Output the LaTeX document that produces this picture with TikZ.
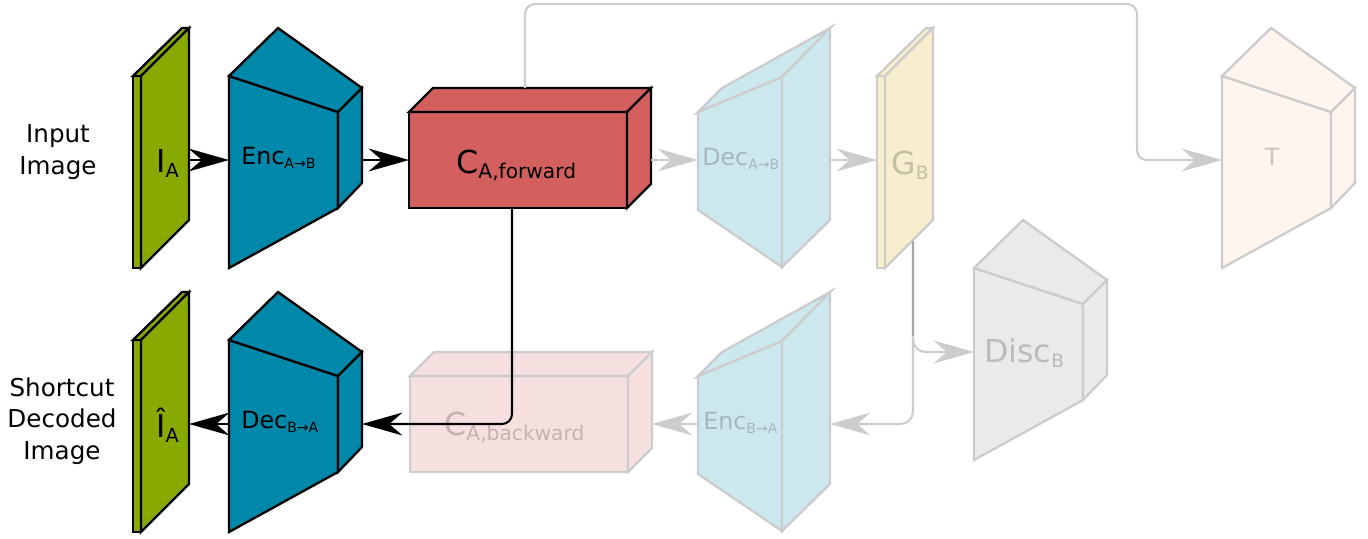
\documentclass[tikz,border=0pt]{standalone}
\usepackage{fontspec}
\setmainfont{DejaVu Sans}
\definecolor{PlateGreen}{HTML}{88AA00}
\definecolor{NetBlue}{HTML}{0088AA}
\definecolor{CodeRed}{HTML}{D35F5F}
\definecolor{GenYellow}{HTML}{D4AA00}
\definecolor{TaskPeach}{HTML}{FFCCAA}
\definecolor{DiscGray}{HTML}{A09095}
\definecolor{FadeLine}{HTML}{CCCCCC}
\definecolor{SharedLine}{HTML}{A6A6A6}
\usetikzlibrary{arrows.meta,positioning,calc}
\tikzset{
  solidPart/.style={draw=black, line width=1.3pt, fill=#1},
  fadedPart/.style={draw=FadeLine, line width=1.3pt, fill=#1!20},
  blackArrow/.style={-{Stealth[length=23pt,width=13pt,inset=7.5pt]}, line width=1.2pt, draw=black},
  grayArrow/.style={-{Stealth[length=23pt,width=13pt,inset=7.5pt]}, line width=1.2pt, draw=FadeLine},
  sharedPart/.style={line width=1.2pt, draw=SharedLine},
  sideText/.style={align=center, font=\fontsize{14}{18}\selectfont},
  netText/.style={inner sep=0pt, anchor=base west, font=\fontsize{13.5}{16}\selectfont},
  bigText/.style={inner sep=0pt, anchor=base west, font=\fontsize{18}{21}\selectfont},
  fadedText/.style={text opacity=0.2}
}
\newcommand{\lowsub}[2]{\raisebox{-0.18em}{\fontsize{#1}{#1}\selectfont #2}}
% encoder-like block, wide side on the left
\newcommand{\wideBlock}[4]{%
  \begin{scope}[shift={(#2,#3)}]
    \path[#4] (0,48) -- (109,84) -- (109,180) -- (0,240) -- cycle;
    \path[#4] (0,48) -- (49,0) -- (133,60) -- (109,84) -- cycle;
    \path[#4] (109,84) -- (133,60) -- (133,155) -- (109,180) -- cycle;
    \coordinate (#1-in) at (0,132);
    \coordinate (#1-out) at (133,132);
  \end{scope}}
% decoder-like block, narrow side on the left
\newcommand{\narrowBlock}[4]{%
  \begin{scope}[shift={(#2,#3)}]
    \path[#4] (0,84) -- (84,49) -- (84,239) -- (0,182) -- cycle;
    \path[#4] (0,84) -- (24,60) -- (132,0) -- (84,49) -- cycle;
    \path[#4] (84,49) -- (132,0) -- (132,192) -- (84,239) -- cycle;
    \coordinate (#1-in) at (0,132);
    \coordinate (#1-out) at (132,132);
  \end{scope}}
\newcommand{\codeBox}[4]{%
  \begin{scope}[shift={(#2,#3)}]
    \path[#4] (0,24) rectangle (218,120);
    \path[#4] (0,24) -- (24,0) -- (242,0) -- (218,24) -- cycle;
    \path[#4] (218,24) -- (242,0) -- (242,96) -- (218,120) -- cycle;
    \coordinate (#1-in) at (0,72);
    \coordinate (#1-out) at (242,72);
    \coordinate (#1-top) at (116,0);
    \coordinate (#1-bottom) at (103,120);
  \end{scope}}
\newcommand{\imagePlate}[4]{%
  \begin{scope}[shift={(#2,#3)}]
    \path[#4] (0,48) rectangle (8,240);
    \path[#4] (0,48) -- (49,0) -- (56,0) -- (8,48) -- cycle;
    \path[#4] (8,48) -- (56,0) -- (56,192) -- (8,240) -- cycle;
    \coordinate (#1-in) at (0,132);
    \coordinate (#1-out) at (56,132);
    \coordinate (#1-bottom) at (36,213);
  \end{scope}}

\begin{document}
\begin{tikzpicture}[x=0.02cm, y=-0.02cm]
\useasboundingbox (0,0) rectangle (1368,538);

% faded part
\narrowBlock{decAB}{698}{28}{fadedPart=NetBlue}
\imagePlate{genB}{877}{28}{fadedPart=GenYellow}
\wideBlock{task}{1222}{28}{fadedPart=TaskPeach}
\wideBlock{discB}{974}{220}{fadedPart=DiscGray}
\narrowBlock{encBA}{698}{292}{fadedPart=NetBlue}
\codeBox{codeBwd}{410}{352}{fadedPart=CodeRed}

% shortcut
\imagePlate{imgA}{133}{28}{solidPart=PlateGreen}
\wideBlock{encAB}{229}{28}{solidPart=NetBlue}
\codeBox{codeFwd}{409}{88}{solidPart=CodeRed}
\imagePlate{imgHatA}{133}{292}{solidPart=PlateGreen}
\wideBlock{decBA}{229}{292}{solidPart=NetBlue}

\node[sideText] (inputText) at (58,152) {Input\\Image};
\node[sideText] (shortcutText) at (62,421) {Shortcut\\Decoded\\Image};

\node[bigText] (imgAText) at (156,172) {I\lowsub{11}{A}};
\node[bigText] (imgHatAText) at (156,437) {Î\lowsub{11}{A}};
\node[netText] (encABText) at (241,164) {Enc\lowsub{8}{A→B}};
\node[netText] (decBAText) at (241,428) {Dec\lowsub{8}{B→A}};
\node[bigText] (codeFwdText) at (456,173) {C\lowsub{11.5}{A,forward}};
\node[bigText, fadedText] (codeBwdText) at (444,435) {C\lowsub{11.5}{A,backward}};
\node[netText, fadedText] (decABText) at (702,165) {Dec\lowsub{8}{A→B}};
\node[netText, fadedText] (encBAText) at (703,429) {Enc\lowsub{8}{B→A}};
\node[bigText, fadedText] (genBText) at (891,174) {G\lowsub{10.5}{B}};
\node[netText, fadedText, anchor=base] (taskText) at (1272,165) {T};
\node[bigText, fadedText] (discBText) at (984,362) {Disc\lowsub{10.5}{B}};

\coordinate (topTurn) at (1137,4);
\coordinate (splitEnd) at (913,336);

\draw[grayArrow] (codeFwd-out) -- (decAB-in);
\draw[grayArrow] (decAB-out) -- (genB-in);
\draw[grayArrow, rounded corners=0.2cm] (codeFwd-top) |- (topTurn) |- (task-in);
\draw[grayArrow, rounded corners=0.25cm] (genB-bottom) |- (discB-in);
\draw[grayArrow, rounded corners=0.25cm] (genB-bottom) |- (encBA-out);
\draw[sharedPart] (genB-bottom) -- (splitEnd);
\draw[grayArrow] (encBA-in) -- (codeBwd-out);

\draw[blackArrow] (imgA-out) -- (encAB-in);
\draw[blackArrow] (encAB-out) -- (codeFwd-in);
\draw[blackArrow, rounded corners=0.2cm] (codeFwd-bottom) |- (decBA-out);
\draw[blackArrow] (decBA-in) -- (imgHatA-out);
\end{tikzpicture}
\end{document}
